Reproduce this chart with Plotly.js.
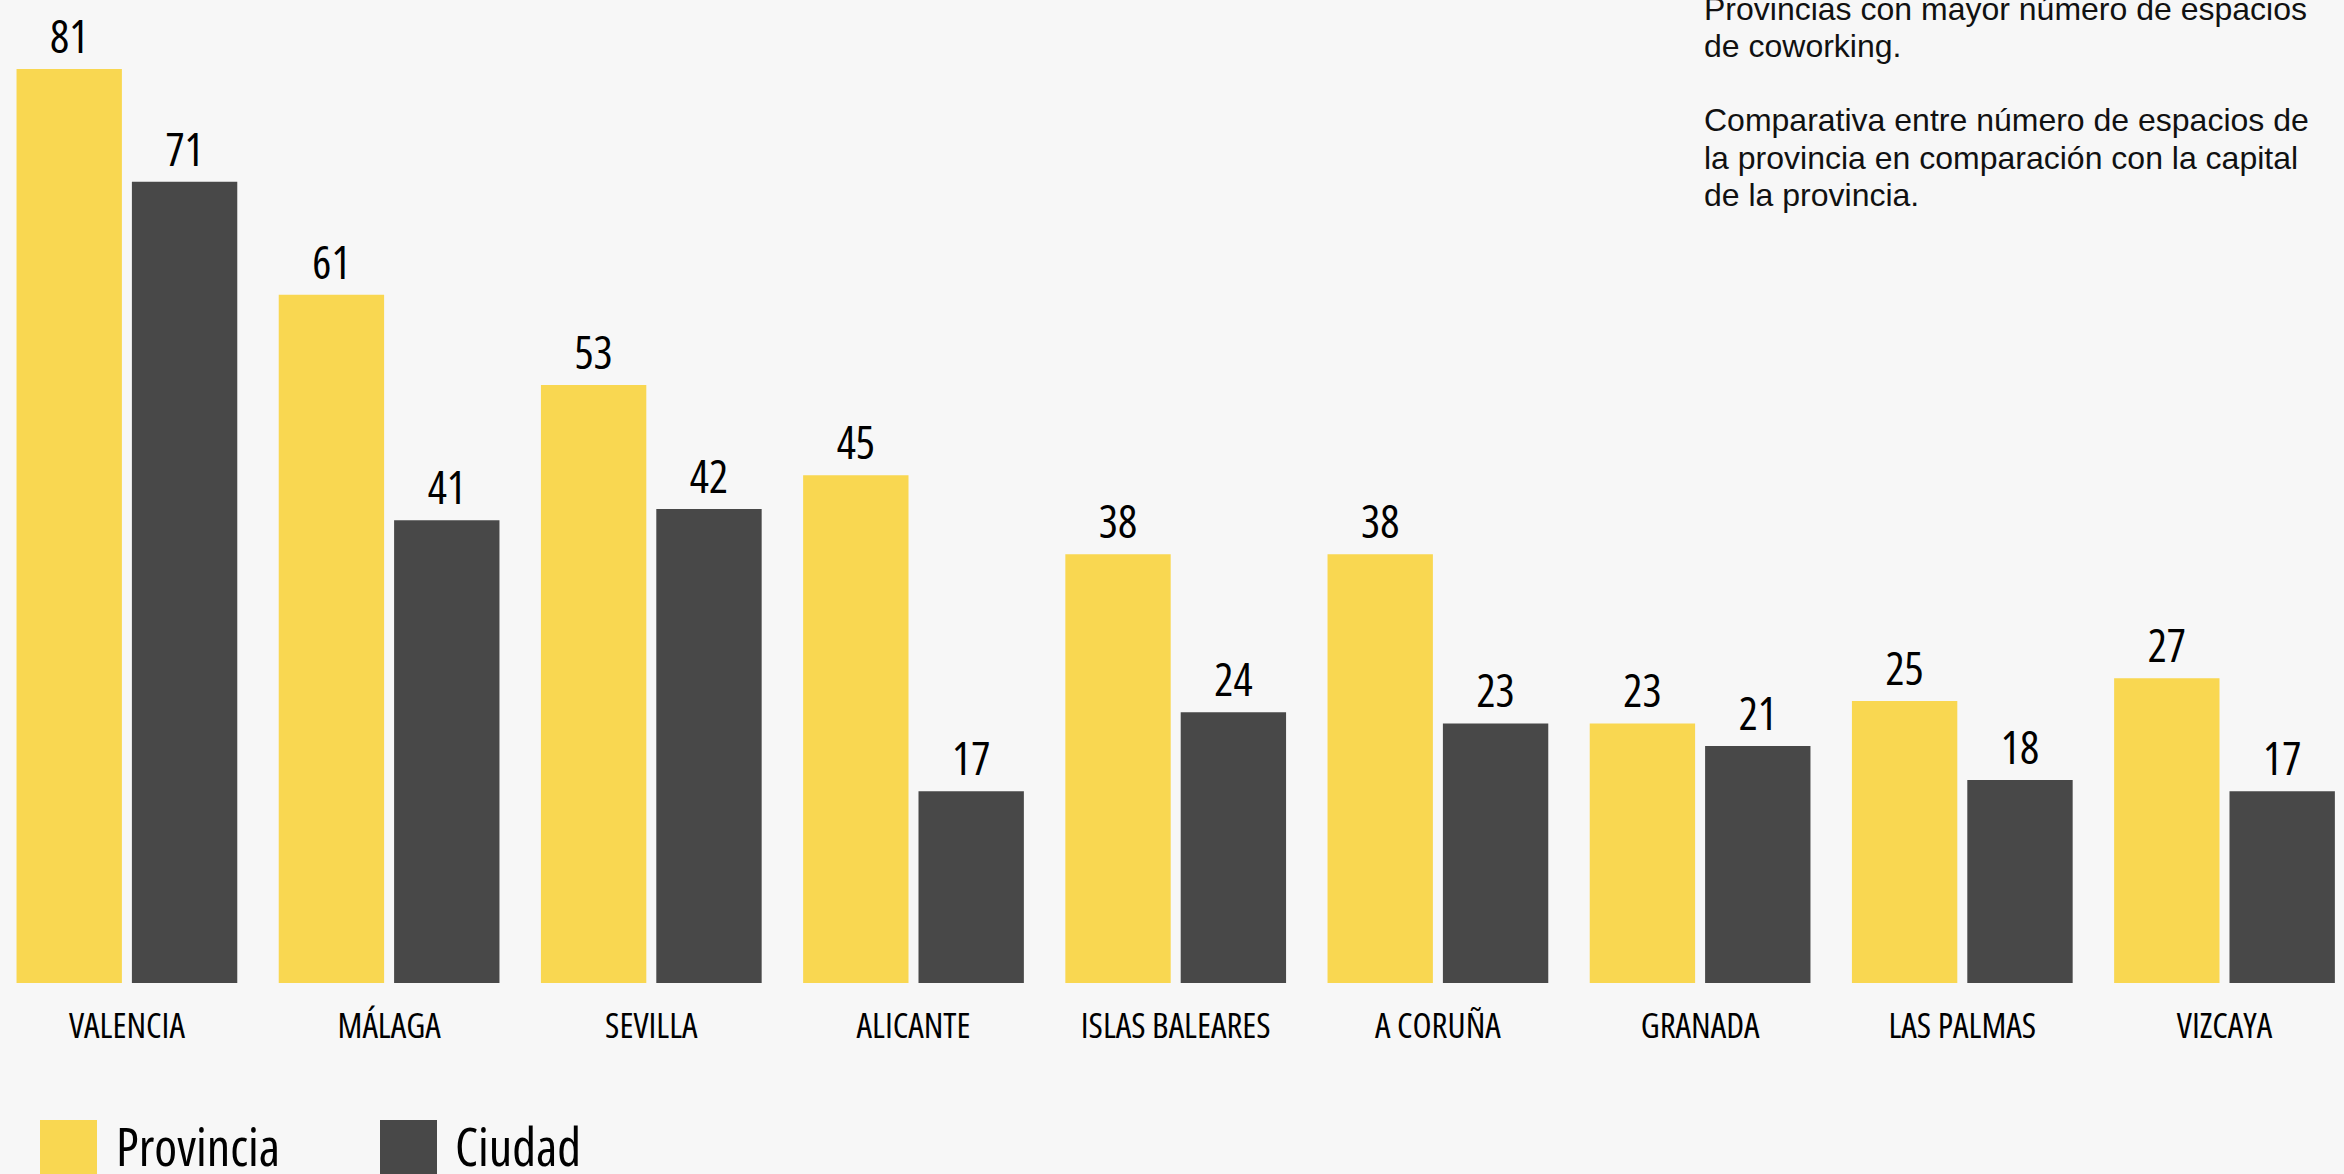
<!DOCTYPE html>
<html>
<head>
<meta charset="utf-8">
<script src="https://cdn.plot.ly/plotly-3.0.1.min.js"></script>
<style>
  html, body { margin: 0; padding: 0; background: #f7f7f7; }
  #chart { width: 2344px; height: 1174px; }
  svg text { font-stretch: 75%; }
</style>
</head>
<body>
<div id="chart"></div>
<script>
// ---- data ----
const categories = ["VALENCIA", "MÁLAGA", "SEVILLA", "ALICANTE", "ISLAS BALEARES", "A CORUÑA", "GRANADA", "LAS PALMAS", "VIZCAYA"];
const provincia = [81, 61, 53, 45, 38, 38, 23, 25, 27];
const ciudad = [71, 41, 42, 17, 24, 23, 21, 18, 17];
const seriesNames = ["Provincia", "Ciudad"];
const noteLines = [
  "Provincias con mayor número de espacios",
  "de coworking.",
  "Comparativa entre número de espacios de",
  "la provincia en comparación con la capital",
  "de la provincia."
];

// ---- style ----
const W = 2344, H = 1174;
const PLOT_BOTTOM = 983;          // pixel y of the baseline
const YELLOW = "#f9d751";
const DARK = "#484848";
const NARROW = "'Open Sans', 'DejaVu Sans Condensed', sans-serif";
const SANS = "'Liberation Sans', Arial, Helvetica, sans-serif";

function py(p) { return (PLOT_BOTTOM - p) / PLOT_BOTTOM; }  // pixel y -> paper y
function px(p) { return p / W; }

const labelFont = { family: NARROW, size: 45, color: "#000", weight: 500 };
const traces = [
  {
    type: "bar", name: seriesNames[0], x: categories, y: provincia,
    marker: { color: YELLOW },
    texttemplate: "%{y}", textposition: "outside", cliponaxis: false,
    textfont: labelFont, showlegend: false
  },
  {
    type: "bar", name: seriesNames[1], x: categories, y: ciudad,
    marker: { color: DARK },
    texttemplate: "%{y}", textposition: "outside", cliponaxis: false,
    textfont: labelFont, showlegend: false
  }
];

const annotations = [];
const noteY = [8.5, 46, 120.5, 158, 195];
noteLines.forEach((t, i) => {
  annotations.push({
    text: t, xref: "paper", yref: "paper", x: px(1702), y: py(noteY[i]),
    xanchor: "left", yanchor: "middle", showarrow: false,
    font: { family: SANS, size: 32, color: "#111" }
  });
});
// legend labels
annotations.push({
  text: seriesNames[0], xref: "paper", yref: "paper", x: px(114), y: py(1145),
  xanchor: "left", yanchor: "middle", showarrow: false,
  font: { family: NARROW, size: 52, color: "#000", weight: 500 }
});
annotations.push({
  text: seriesNames[1], xref: "paper", yref: "paper", x: px(453), y: py(1145),
  xanchor: "left", yanchor: "middle", showarrow: false,
  font: { family: NARROW, size: 52, color: "#000", weight: 500 }
});

const shapes = [
  { type: "rect", xref: "paper", yref: "paper", x0: px(40), x1: px(97), y0: py(1120), y1: py(1180),
    fillcolor: YELLOW, line: { width: 0 } },
  { type: "rect", xref: "paper", yref: "paper", x0: px(380), x1: px(437), y0: py(1120), y1: py(1180),
    fillcolor: DARK, line: { width: 0 } }
];

const catW = 262.2;
const x0 = -126.9 / catW;
const layout = {
  width: W, height: H,
  paper_bgcolor: "#f7f7f7", plot_bgcolor: "#f7f7f7",
  margin: { l: 0, r: 0, t: 0, b: H - PLOT_BOTTOM, pad: 0 },
  barmode: "group", bargap: 0.12, bargroupgap: 0.0867,
  showlegend: false,
  xaxis: {
    type: "category", range: [x0, x0 + W / catW],
    showgrid: false, zeroline: false, showline: false, ticks: "",
    tickfont: { family: NARROW, size: 35, color: "#000", weight: 500 },
    ticklabelstandoff: 19
  },
  yaxis: {
    range: [0, PLOT_BOTTOM / 11.284],
    visible: false, showgrid: false, zeroline: false
  },
  annotations: annotations,
  shapes: shapes
};

Plotly.newPlot("chart", traces, layout, { displayModeBar: false, staticPlot: true });
</script>
</body>
</html>
